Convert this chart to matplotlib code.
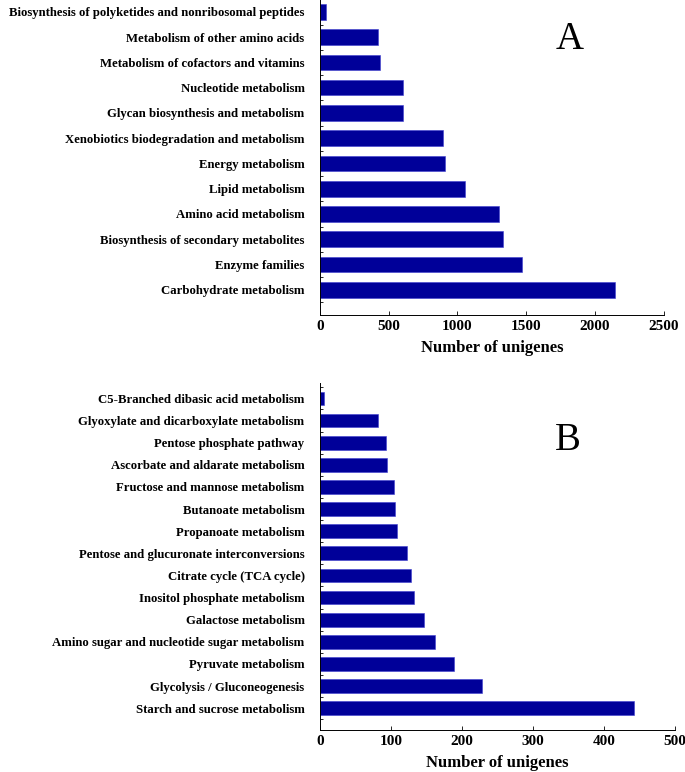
import matplotlib
matplotlib.use("Agg")
import matplotlib.pyplot as plt
import numpy as np

# KEGG categories, panel A (top to bottom in the picture)
cats_a = [
    "Biosynthesis of polyketides and nonribosomal peptides",
    "Metabolism of other amino acids",
    "Metabolism of cofactors and vitamins",
    "Nucleotide metabolism",
    "Glycan biosynthesis and metabolism",
    "Xenobiotics biodegradation and metabolism",
    "Energy metabolism",
    "Lipid metabolism",
    "Amino acid metabolism",
    "Biosynthesis of secondary metabolites",
    "Enzyme families",
    "Carbohydrate metabolism",
]
vals_a = [44, 426, 440, 603, 605, 895, 910, 1055, 1300, 1333, 1471, 2147]
ticks_a = [0, 500, 1000, 1500, 2000, 2500]

# carbohydrate metabolism sub-pathways, panel B
cats_b = [
    "C5-Branched dibasic acid metabolism",
    "Glyoxylate and dicarboxylate metabolism",
    "Pentose phosphate pathway",
    "Ascorbate and aldarate metabolism",
    "Fructose and mannose metabolism",
    "Butanoate metabolism",
    "Propanoate metabolism",
    "Pentose and glucuronate interconversions",
    "Citrate cycle (TCA cycle)",
    "Inositol phosphate metabolism",
    "Galactose metabolism",
    "Amino sugar and nucleotide sugar metabolism",
    "Pyruvate metabolism",
    "Glycolysis / Gluconeogenesis",
    "Starch and sucrose metabolism",
]
vals_b = [6, 82, 93, 94, 105, 106, 109, 123, 129, 132, 147, 162, 189, 229, 442]
ticks_b = [0, 100, 200, 300, 400, 500]

plt.rcParams["font.family"] = ["Liberation Serif", "DejaVu Serif"]
bar_color = "#000099"

fig = plt.figure(figsize=(6.85, 7.72), dpi=100)


def panel(rect, cats, vals, ticks, letter, ytop, letter_xy):
    ax = fig.add_axes(rect)
    n = len(cats)
    y = np.arange(n)[::-1]
    ax.barh(y, vals, height=0.62, color=bar_color, edgecolor="#3d3dd0", linewidth=0.4)
    ax.set_yticks(y)
    ax.set_yticklabels(cats, fontsize=9.2, fontweight="bold")
    ax.set_yticks(np.arange(-0.5, n, 1.0), minor=True)
    ax.tick_params(axis="y", which="major", length=0, pad=11)
    ax.tick_params(axis="y", which="minor", direction="in", length=2, width=0.6)
    ax.set_xticks(ticks)
    ax.set_xticklabels([str(t) for t in ticks], fontsize=11, fontweight="bold")
    ax.tick_params(axis="x", direction="in", length=3, width=0.6)
    ax.set_xlim(ticks[0], ticks[-1])
    ax.set_ylim(-1, n - 1 + ytop)
    ax.spines["top"].set_visible(False)
    ax.spines["right"].set_visible(False)
    for s in ("left", "bottom"):
        ax.spines[s].set_linewidth(0.7)
    ax.set_xlabel("Number of unigenes", fontsize=12, fontweight="bold", labelpad=5)
    ax.text(letter_xy[0], letter_xy[1], letter, transform=ax.transAxes,
            fontsize=28, ha="center", va="center")
    return ax


panel([0.467, 0.592, 0.502, 0.408], cats_a, vals_a, ticks_a, "A", 0.47, (0.725, 0.875))
panel([0.467, 0.054, 0.518, 0.450], cats_b, vals_b, ticks_b, "B", 0.70, (0.70, 0.835))

fig.savefig("out.png", dpi=100)
